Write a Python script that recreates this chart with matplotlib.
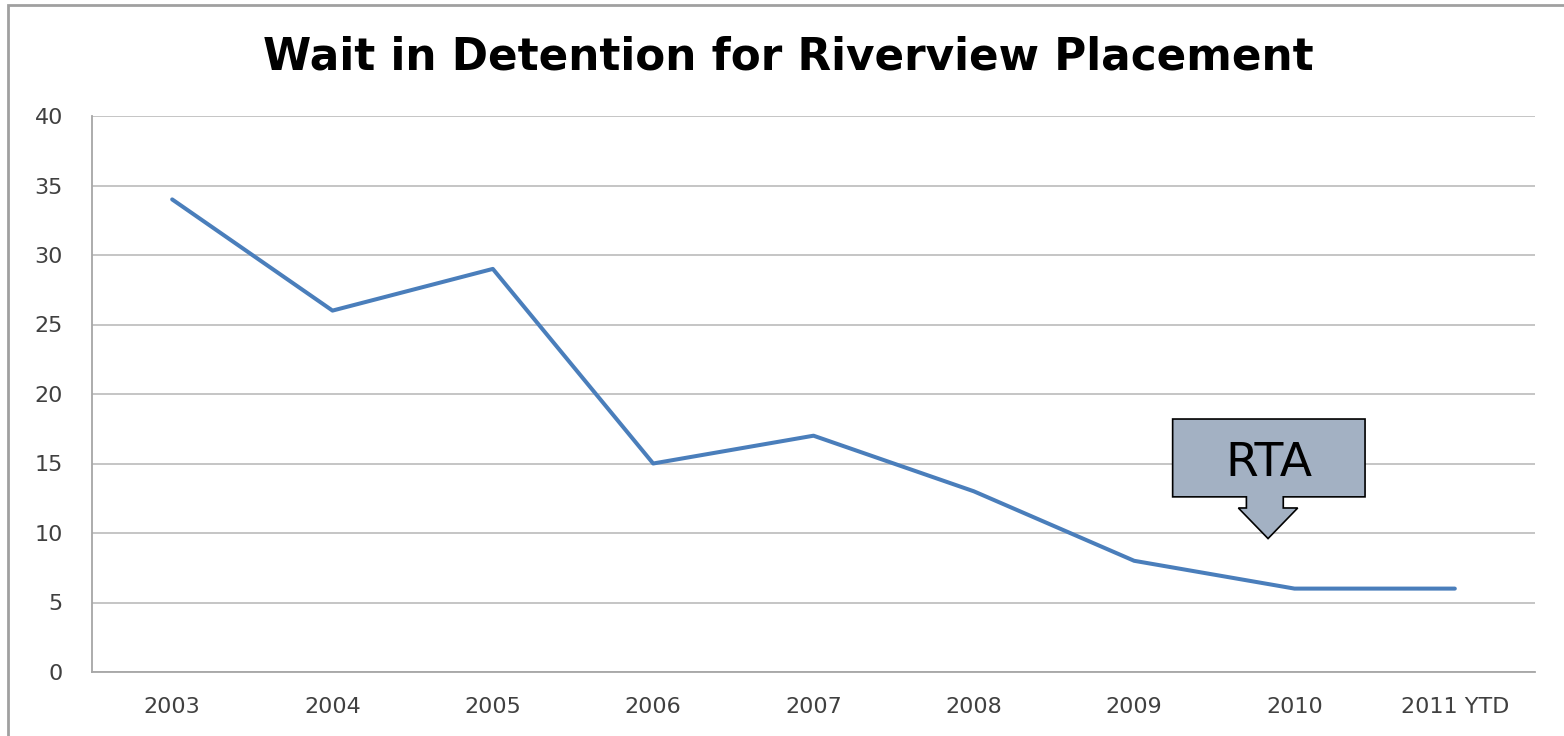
import matplotlib.pyplot as plt
from matplotlib.patches import Polygon, Rectangle

# ---------- Data ----------
years = ["2003", "2004", "2005", "2006", "2007", "2008", "2009", "2010", "2011 YTD"]
wait_days = [34, 26, 29, 15, 17, 13, 8, 6, 6]
y_ticks = [0, 5, 10, 15, 20, 25, 30, 35, 40]

# ---------- Figure ----------
fig = plt.figure(figsize=(15.64, 7.36), dpi=100)
ax = fig.add_axes([92 / 1564, 1 - 672 / 736, (1535 - 92) / 1564, (672 - 116) / 736])

x = list(range(len(years)))
ax.plot(x, wait_days, color="#4A7EBB", linewidth=2.9, solid_capstyle="round", zorder=3)

ax.set_xlim(-0.5, len(years) - 0.5)
ax.set_ylim(0, 40)
ax.set_yticks(y_ticks)
ax.set_xticks(x)
ax.set_xticklabels(years)
ax.tick_params(length=0, labelsize=16, colors="#404040")
ax.tick_params(axis="x", pad=18)
ax.tick_params(axis="y", pad=21)
ax.grid(axis="y", color="#C0C0C0", linewidth=1.3)
ax.set_axisbelow(True)
for side in ["top", "right"]:
    ax.spines[side].set_visible(False)
for side in ["left", "bottom"]:
    ax.spines[side].set_color("#A6A6A6")
    ax.spines[side].set_linewidth(1.3)

fig.text(788 / 1564, 1 - 57 / 736, "Wait in Detention for Riverview Placement",
         ha="center", va="center", fontsize=31.5, fontweight="bold", color="#000000")

# ---------- RTA callout ----------
bl, br, bt, bb = 6.24, 7.44, 18.2, 12.6
sl, sr, sb = 6.70, 6.93, 11.8
hl, hr, tip_x, tip_y = 6.65, 7.02, 6.835, 9.6
pts = [(bl, bt), (br, bt), (br, bb), (sr, bb), (sr, sb), (hr, sb), (tip_x, tip_y),
       (hl, sb), (sl, sb), (sl, bb), (bl, bb)]
ax.add_patch(Polygon(pts, closed=True, facecolor="#A3B1C3", edgecolor="black",
                     linewidth=1.2, zorder=5))
ax.text((bl + br) / 2, (bt + bb) / 2 - 0.4, "RTA", ha="center", va="center",
        fontsize=34, color="black", zorder=6)

# ---------- Outer frame ----------
fig.patches.append(Rectangle((8 / 1564, -0.01), 1.02, 1 - 5 / 736 + 0.01,
                             transform=fig.transFigure, fill=False,
                             edgecolor="#A0A0A0", linewidth=2))

fig.savefig("out.png", dpi=100)
